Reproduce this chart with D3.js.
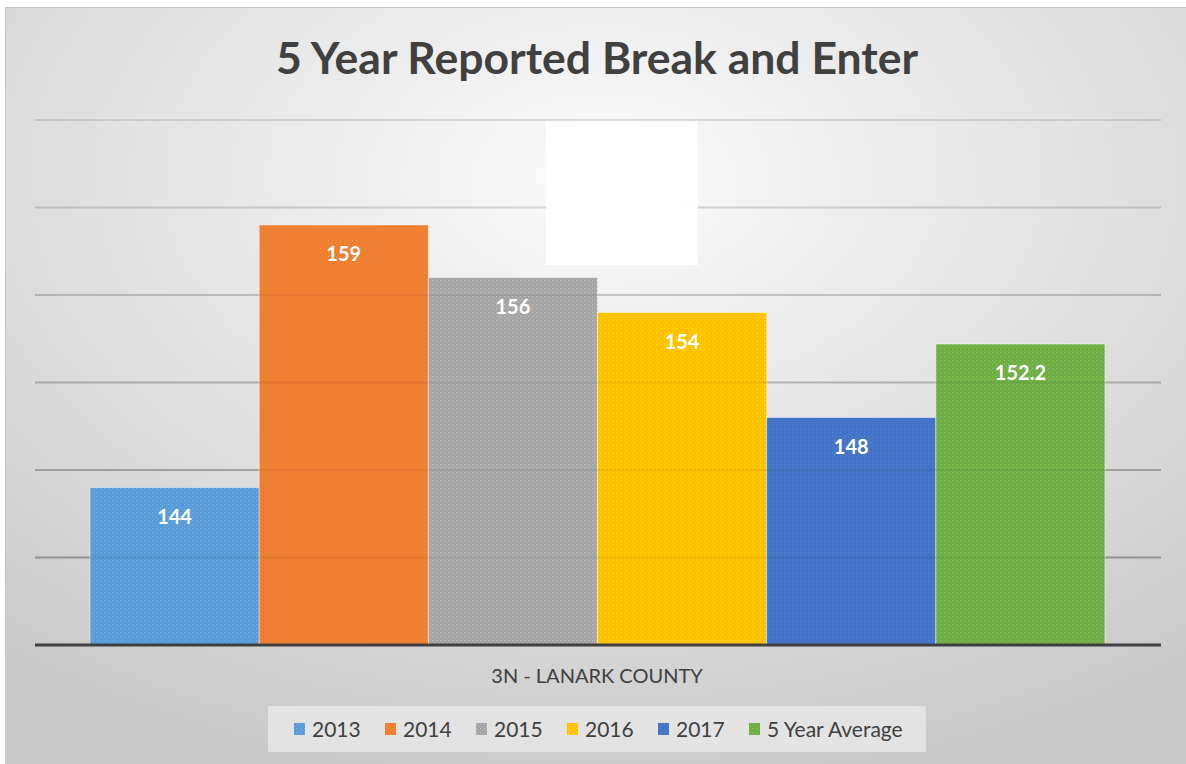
<!DOCTYPE html>
<html>
<head>
<meta charset="utf-8">
<script src="https://cdn.jsdelivr.net/npm/d3@7/dist/d3.min.js"></script>
<style>
  body { margin: 0; background: #fff; }
  svg { display: block; }
</style>
</head>
<body>
<div id="chart"></div>
<script>
// chart data
var series = ["2013", "2014", "2015", "2016", "2017", "5 Year Average"];
var values = [144, 159, 156, 154, 148, 152.2];
var labels = ["144", "159", "156", "154", "148", "152.2"];
var colors = ["#5B9BD5", "#ED7D31", "#A5A5A5", "#FFC000", "#4472C4", "#70AD47"];
var category = "3N - LANARK COUNTY";
var gridTicks = [135, 140, 145, 150, 155, 160, 165];

var width = 1186, height = 764;
var font = "Lato, 'Open Sans', sans-serif";

var svg = d3.select("#chart").append("svg")
    .attr("width", width)
    .attr("height", height);

var defs = svg.append("defs");
var bg = defs.append("radialGradient")
    .attr("id", "bg")
    .attr("cx", "50%").attr("cy", "22%")
    .attr("r", "80%");
bg.append("stop").attr("offset", "0%").attr("stop-color", "#fbfbfb");
bg.append("stop").attr("offset", "55%").attr("stop-color", "#e0e0e0");
bg.append("stop").attr("offset", "100%").attr("stop-color", "#c9c9c9");

// dotted fill like the office pattern
colors.forEach(function(c, i) {
  var p = defs.append("pattern")
      .attr("id", "pat" + i)
      .attr("width", 4).attr("height", 4)
      .attr("patternUnits", "userSpaceOnUse");
  p.append("rect").attr("width", 4).attr("height", 4).attr("fill", c);
  p.append("rect").attr("x", 0).attr("y", 0).attr("width", 1).attr("height", 1)
      .attr("fill", d3.color(c).brighter(0.5));
  p.append("rect").attr("x", 2).attr("y", 2).attr("width", 1).attr("height", 1)
      .attr("fill", d3.color(c).brighter(0.3));
});

// chart area
svg.append("rect")
    .attr("x", 5.5).attr("y", 7.5)
    .attr("width", width + 10).attr("height", height + 10)
    .attr("fill", "url(#bg)")
    .attr("stroke", "#c6c6c6");

var plot = {left: 35, right: 1161, top: 120, bottom: 645};

var y = d3.scaleLinear()
    .domain([135, 165])
    .range([plot.bottom, plot.top]);

var x = d3.scaleBand()
    .domain(series)
    .range([90, 1105])
    .padding(0);

// gridlines get darker toward the bottom, as the background does
var gridOpacity = d3.scaleLinear()
    .domain([165, 140])
    .range([0.05, 0.26]);

svg.append("g").selectAll("line")
    .data(gridTicks.slice(1))
    .enter().append("line")
    .attr("x1", plot.left).attr("x2", plot.right)
    .attr("y1", function(d) { return y(d); })
    .attr("y2", function(d) { return y(d); })
    .attr("stroke", "#000")
    .attr("stroke-opacity", function(d) { return gridOpacity(d); })
    .attr("stroke-width", 2);

// bars
var bars = svg.append("g").selectAll("g")
    .data(values)
    .enter().append("g");

bars.append("rect")
    .attr("x", function(d, i) { return x(series[i]); })
    .attr("y", function(d) { return y(d); })
    .attr("width", x.bandwidth())
    .attr("height", function(d) { return plot.bottom - y(d); })
    .attr("fill", function(d, i) { return "url(#pat" + i + ")"; })
    .attr("stroke", "#ffffff")
    .attr("stroke-opacity", 0.45)
    .attr("stroke-width", 1);

// faint gridlines showing through the bars
svg.append("g").selectAll("line")
    .data(gridTicks.slice(1))
    .enter().append("line")
    .attr("x1", plot.left).attr("x2", plot.right)
    .attr("y1", function(d) { return y(d); })
    .attr("y2", function(d) { return y(d); })
    .attr("stroke", "#000")
    .attr("stroke-opacity", 0.06)
    .attr("stroke-width", 2);

bars.append("text")
    .attr("x", function(d, i) { return x(series[i]) + x.bandwidth() / 2; })
    .attr("y", function(d) { return y(d) + 36; })
    .attr("text-anchor", "middle")
    .attr("font-family", font)
    .attr("font-weight", "bold")
    .attr("font-size", 20)
    .attr("fill", "#fff")
    .text(function(d, i) { return labels[i]; });

// baseline
svg.append("line")
    .attr("x1", plot.left).attr("x2", plot.right)
    .attr("y1", y(135)).attr("y2", y(135))
    .attr("stroke", "#404040")
    .attr("stroke-width", 3);

// white patch over the top of the plot
svg.append("rect")
    .attr("x", 546).attr("y", 121)
    .attr("width", 152).attr("height", 144)
    .attr("fill", "#fff")
    .attr("fill-opacity", 0.96);

// title
svg.append("text")
    .attr("x", 597).attr("y", 74)
    .attr("text-anchor", "middle")
    .attr("font-family", font)
    .attr("font-weight", "bold")
    .attr("font-size", 44.5)
    .attr("fill", "#404040")
    .text("5 Year Reported Break and Enter");

// category label
svg.append("text")
    .attr("x", 597).attr("y", 683)
    .attr("text-anchor", "middle")
    .attr("font-family", font)
    .attr("font-size", 20)
    .attr("fill", "#404040")
    .text(category);

// legend
var legend = svg.append("g");
legend.append("rect")
    .attr("x", 268).attr("y", 706)
    .attr("width", 658).attr("height", 46)
    .attr("fill", "#e3e3e3");

var lx = d3.scalePoint()
    .domain(series)
    .range([294, 749]);

var item = legend.selectAll("g.item")
    .data(series)
    .enter().append("g")
    .attr("class", "item");

item.append("rect")
    .attr("x", function(d) { return lx(d); })
    .attr("y", 723)
    .attr("width", 11).attr("height", 12)
    .attr("fill", function(d, i) { return "url(#pat" + i + ")"; });

item.append("text")
    .attr("x", function(d) { return lx(d) + 18; })
    .attr("y", 737)
    .attr("font-family", font)
    .attr("font-size", 21)
    .attr("fill", "#404040")
    .text(function(d) { return d; });
</script>
</body>
</html>
